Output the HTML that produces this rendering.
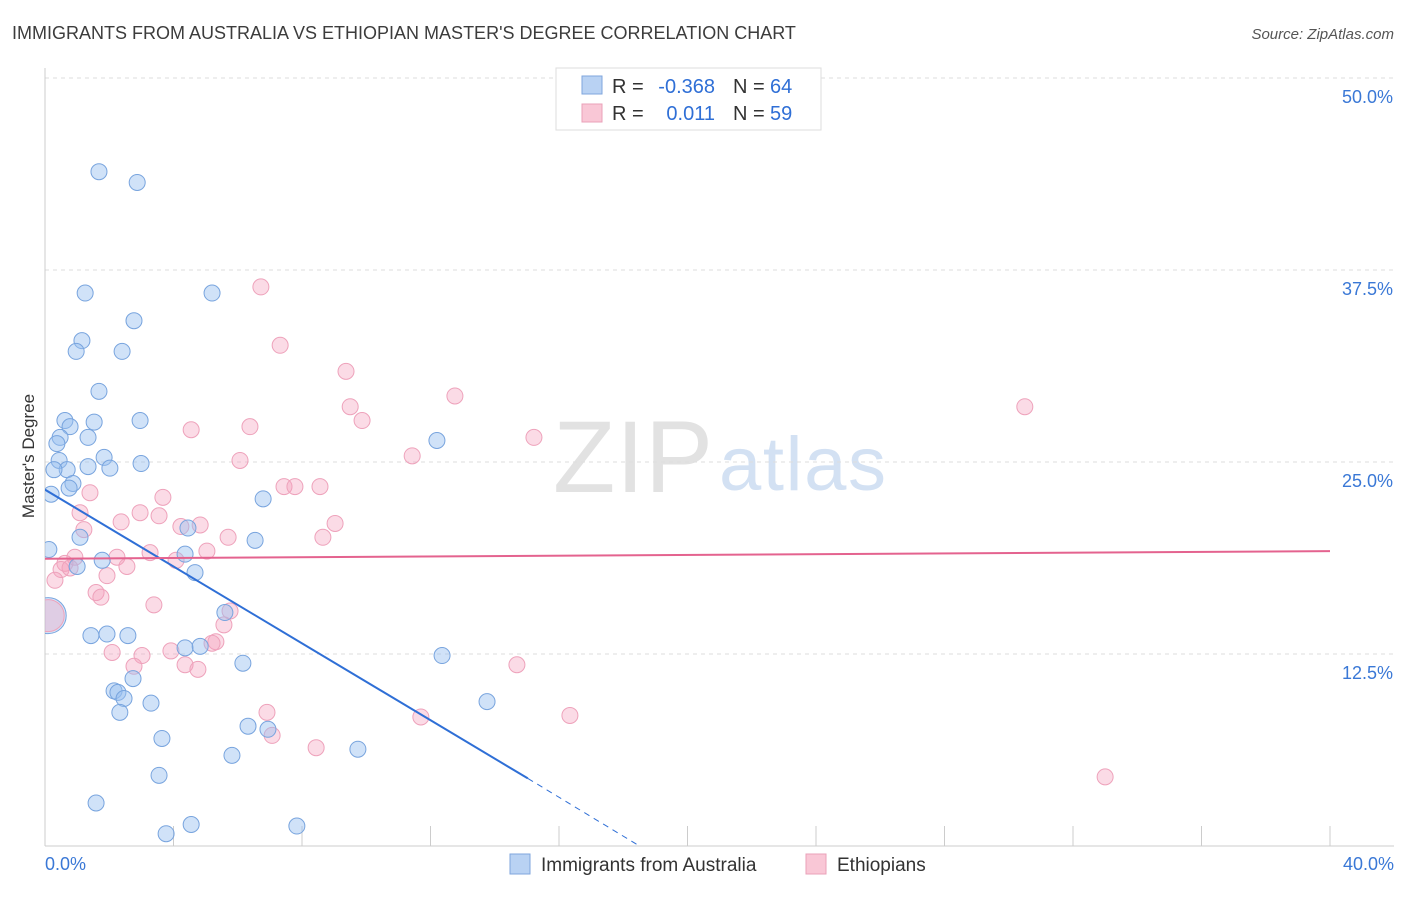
<!DOCTYPE html>
<html><head><meta charset="utf-8"><style>
body{margin:0;background:#fff;font-family:"Liberation Sans",sans-serif;}
svg text{font-family:"Liberation Sans",sans-serif;}
</style></head><body>
<svg id="chart" width="1406" height="892" xmlns="http://www.w3.org/2000/svg">
<defs><clipPath id="pc"><rect x="45" y="60" width="1360" height="786"/></clipPath></defs>
<text x="12" y="39" font-size="18" fill="#3c3c3c">IMMIGRANTS FROM AUSTRALIA VS ETHIOPIAN MASTER'S DEGREE CORRELATION CHART</text>
<text x="1394" y="39" font-size="15" fill="#555" text-anchor="end" font-style="italic">Source: ZipAtlas.com</text>
<text x="553" y="492" font-size="102" fill="#e2e2e2" font-family="Liberation Serif" textLength="160">ZIP</text>
<text x="719" y="490" font-size="76" fill="#d3e1f3" textLength="167">atlas</text>
<g id="grid"></g>
<g id="marks" clip-path="url(#pc)"></g>
<text transform="translate(34,456) rotate(-90)" font-size="17" fill="#333" text-anchor="middle">Master's Degree</text>
<g>
<rect x="556" y="68" width="265" height="62" fill="#fff" stroke="#ddd"/>
<rect x="582" y="76" width="20" height="18" fill="#b9d2f3" stroke="#7fa6dd"/>
<rect x="582" y="104" width="20" height="18" fill="#f9c7d6" stroke="#eaa0b8"/>
<text x="612" y="93" font-size="20" fill="#333">R =</text>
<text x="715" y="93" font-size="20" fill="#2f6fd6" text-anchor="end">-0.368</text>
<text x="733" y="93" font-size="20" fill="#333">N =</text>
<text x="770" y="93" font-size="20" fill="#2f6fd6">64</text>
<text x="612" y="120" font-size="20" fill="#333">R =</text>
<text x="715" y="120" font-size="20" fill="#2f6fd6" text-anchor="end">0.011</text>
<text x="733" y="120" font-size="20" fill="#333">N =</text>
<text x="770" y="120" font-size="20" fill="#2f6fd6">59</text>
</g>
<g>
<rect x="510" y="854" width="20" height="20" fill="#b9d2f3" stroke="#7fa6dd"/>
<text x="541" y="871" font-size="19" fill="#333">Immigrants from Australia</text>
<rect x="806" y="854" width="20" height="20" fill="#f9c7d6" stroke="#eaa0b8"/>
<text x="837" y="871" font-size="19" fill="#333">Ethiopians</text>
</g>
</svg>
<script>
const blueX=[1.68,2.87,1.25,5.2,2.77,1.15,0.97,2.4,1.68,0.62,1.53,2.96,0.78,0.47,0.37,1.34,12.2,1.84,0.44,1.34,2.02,2.99,0.69,0.28,0.87,0.75,0.19,6.79,4.45,1.09,6.54,0.12,4.36,1.78,1.0,4.67,5.6,1.43,1.93,2.58,4.36,4.83,6.16,12.36,2.15,2.27,2.46,2.74,3.3,2.33,13.76,6.32,6.94,3.64,5.82,9.74,3.55,1.59,4.55,3.77,7.84];
const blueY=[43.9,43.2,36.0,36.0,34.2,32.9,32.2,32.2,29.6,27.7,27.6,27.7,27.3,26.6,26.2,26.6,26.4,25.3,25.1,24.7,24.6,24.9,24.5,24.5,23.6,23.3,22.9,22.6,20.7,20.1,19.9,19.3,19.0,18.6,18.2,17.8,15.2,13.7,13.8,13.7,12.9,13.0,11.9,12.4,10.1,10.0,9.6,10.9,9.3,8.7,9.4,7.8,7.6,7.0,5.9,6.3,4.6,2.8,1.4,0.8,1.3];
const pinkX=[6.72,7.32,9.37,12.76,9.5,9.87,30.5,4.55,6.38,15.22,6.07,11.43,1.4,3.67,7.44,7.78,8.56,1.09,2.96,3.55,2.37,4.83,4.23,9.03,1.21,5.7,8.65,3.27,5.04,0.93,2.24,0.62,2.55,0.5,0.78,0.31,1.93,1.59,1.74,3.39,5.76,5.57,5.32,5.2,2.09,3.02,3.92,4.36,2.77,4.76,14.69,6.91,11.7,16.34,7.07,8.44,33.0,4.08];
const pinkY=[36.4,32.6,30.9,29.3,28.6,27.7,28.6,27.1,27.3,26.6,25.1,25.4,23.0,22.7,23.4,23.4,23.4,21.7,21.7,21.5,21.1,20.9,20.8,21.0,20.6,20.1,20.1,19.1,19.2,18.8,18.8,18.4,18.2,18.0,18.1,17.3,17.6,16.5,16.2,15.7,15.3,14.4,13.3,13.2,12.6,12.4,12.7,11.8,11.7,11.5,11.8,8.7,8.4,8.5,7.2,6.4,4.5,18.6];
const bigBlue=[0.1,15.0], bigPink=[0.1,15.0];
const blueTrend=[[0,23.2],[15.03,4.4],[18.45,0.07]];
const pinkTrend=[[0,18.7],[40,19.2]];
const yTicks=[12.5,25,37.5,50];
const xTicks=[0,4,8,12,16,20,24,28,32,36,40];
const NS="http://www.w3.org/2000/svg";
const X=v=>45+v*32.125, Y=v=>846-v*15.36;
function mk(t,a,p){const e=document.createElementNS(NS,t);for(const k in a)e.setAttribute(k,a[k]);p.appendChild(e);return e;}
const g=document.getElementById('grid'), m=document.getElementById('marks'), svg=document.getElementById('chart');
for(const t of yTicks){
 const l=mk('line',{x1:45,x2:1394,y1:Y(t),y2:Y(t),stroke:'#ddd','stroke-dasharray':'4,4'},g);
 
 
 const tx=mk('text',{x:1393,y:Y(t)+25,'font-size':18,fill:'#3a78d6','text-anchor':'end'},svg);
 tx.textContent=t.toFixed(1)+'%';
 
 
}
for(const t of xTicks){
 const l=mk('line',{x1:X(t),x2:X(t),y1:826,y2:846,stroke:'#ccc'},g);
 
 
}
mk('line',{x1:45,x2:1394,y1:846,y2:846,stroke:'#ccc'},g);
mk('line',{x1:45,x2:45,y1:68,y2:846,stroke:'#ccc'},g);
const x0=mk('text',{x:45,y:870,'font-size':18,fill:'#3a78d6'},svg);x0.textContent='0.0%';


const x1=mk('text',{x:1394,y:870,'font-size':18,fill:'#3a78d6','text-anchor':'end'},svg);x1.textContent='40.0%';


pinkX.forEach((v,i)=>{const c=mk('circle',{cx:X(v),cy:Y(pinkY[i]),r:8,fill:'rgba(244,160,188,0.38)',stroke:'#eea2bb','stroke-width':1},m);
 
 });
blueX.forEach((v,i)=>{const c=mk('circle',{cx:X(v),cy:Y(blueY[i]),r:8,fill:'rgba(150,190,240,0.45)',stroke:'#78a4de','stroke-width':1},m);
 
 });
const bb=mk('circle',{cx:X(bigBlue[0]),cy:Y(bigBlue[1]),r:18,fill:'rgba(150,190,240,0.4)',stroke:'#78a4de'},m);


const bp=mk('circle',{cx:X(bigPink[0]),cy:Y(bigPink[1]),r:16,fill:'rgba(244,160,188,0.35)',stroke:'#eea2bb'},m);


const bt=mk('line',{x1:X(blueTrend[0][0]),y1:Y(blueTrend[0][1]),x2:X(blueTrend[1][0]),y2:Y(blueTrend[1][1]),stroke:'#2f6fd6','stroke-width':2},m);


const bd=mk('line',{x1:X(blueTrend[1][0]),y1:Y(blueTrend[1][1]),x2:X(blueTrend[2][0]),y2:Y(blueTrend[2][1]),stroke:'#2f6fd6','stroke-width':1,'stroke-dasharray':'6,5'},m);


const pt=mk('line',{x1:X(pinkTrend[0][0]),y1:Y(pinkTrend[0][1]),x2:X(pinkTrend[1][0]),y2:Y(pinkTrend[1][1]),stroke:'#e4638f','stroke-width':2},m);


</script>
</body></html>
